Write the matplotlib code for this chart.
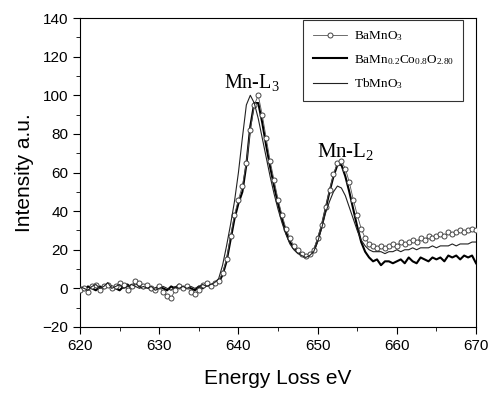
import numpy as np
import matplotlib
matplotlib.use("Agg")
import matplotlib.pyplot as plt
from matplotlib.ticker import MultipleLocator

plt.rcParams['mathtext.fontset'] = 'custom'
plt.rcParams['mathtext.rm'] = 'Liberation Serif'
plt.rcParams['mathtext.it'] = 'Liberation Serif:italic'

energy = np.arange(620, 670.01, 0.5)

bamno3 = [-1, 0, -2, 1, 2, -1, 1, 2, 0, 1, 3, 2, -1, 1, 4, 3, 1, 2, 0, -1,
          1, -2, -4, -5, -1, 1, 0, 1, -2, -3, -1, 2, 3, 1, 3,
          4, 8, 15, 27, 38, 46, 53, 65, 82, 95, 100, 90, 78, 66, 56, 46, 38, 31, 26, 22,
          20, 18, 17, 18, 20, 26, 33, 42, 51, 59, 65, 66, 62, 55, 46, 38, 31, 26, 23, 22,
          21, 22, 21, 22, 23, 22, 24, 23, 24, 25, 24, 26, 25, 27, 26, 27, 28, 27, 29, 28,
          29, 30, 29, 30, 31, 30]

bamncoo = [0, -1, 1, 0, -1, 1, 0, 2, 1, 0, -1, 1, 2, 0, 3, 1, 0, 1, -1, 0,
           1, 0, -1, 1, 0, 2, 0, 1, 0, -1, 1, 0, 2, 1, 2,
           3, 7, 14, 25, 36, 44, 50, 64, 84, 96, 96, 86, 74, 63, 53, 44, 36, 29, 24, 21,
           19, 17, 16, 17, 19, 25, 32, 41, 50, 58, 64, 64, 58, 50, 41, 32, 24, 19, 16, 14,
           15, 12, 14, 14, 13, 14, 15, 13, 16, 14, 13, 16, 15, 14, 16, 15, 16, 14, 17, 16,
           17, 15, 17, 16, 17, 13]

tbmno3 = [1, 0, -1, 1, 2, 0, 1, 3, 0, 1, 2, 0, 1, 2, 1, 0, 1, 0, 1, -1,
          0, 1, 0, -1, 1, 0, 1, 0, 1, 0, 1, 2, 1, 2, 3,
          5, 12, 22, 33, 45, 60, 78, 95, 100, 96, 88, 78, 68, 58, 49, 41, 34, 28, 23, 20,
          18, 17, 16, 17, 19, 24, 31, 39, 45, 50, 53, 52, 48, 42, 36, 30, 25, 22, 20, 19,
          19, 19, 18, 19, 19, 20, 19, 20, 20, 21, 20, 21, 21, 21, 22, 21, 22, 22, 22, 23,
          22, 23, 23, 23, 24, 24]

labels = [r'BaMnO$\mathregular{_3}$',
          r'BaMn$\mathregular{_{0.2}}$Co$\mathregular{_{0.8}}$O$\mathregular{_{2.80}}$',
          r'TbMnO$\mathregular{_3}$']

fig = plt.figure(figsize=(4.91, 3.93), dpi=100)
ax = fig.add_axes([0.163, 0.168, 0.8065, 0.786])

ax.plot(energy, bamno3, color='#555555', lw=0.6, marker='o', markersize=3.6,
        markerfacecolor='white', markeredgecolor='#444444', markeredgewidth=0.7,
        label=labels[0], zorder=3)
ax.plot(energy, bamncoo, color='black', lw=1.5, label=labels[1], zorder=2)
ax.plot(energy, tbmno3, color='#222222', lw=0.8, label=labels[2], zorder=4)

ax.set_xlim(620, 670)
ax.set_ylim(-20, 140)
ax.xaxis.set_major_locator(MultipleLocator(10))
ax.xaxis.set_minor_locator(MultipleLocator(5))
ax.yaxis.set_major_locator(MultipleLocator(20))
ax.yaxis.set_minor_locator(MultipleLocator(10))
ax.tick_params(which='both', direction='out', top=False, right=False,
               labelsize=11)
ax.tick_params(which='major', length=5)
ax.tick_params(which='minor', length=3)
for lab in ax.get_xticklabels() + ax.get_yticklabels():
    lab.set_fontfamily('Liberation Sans')

ax.set_xlabel('Energy Loss eV', fontsize=15, family='Liberation Sans', labelpad=12)
ax.set_ylabel('Intensity a.u.', fontsize=15, family='Liberation Sans', labelpad=6)

ax.text(638.2, 104, r'Mn-L$\mathregular{_3}$', fontsize=14.5, family='Liberation Serif')
ax.text(649.9, 68, r'Mn-L$\mathregular{_2}$', fontsize=15, family='Liberation Serif')

leg = ax.legend(loc='upper right', bbox_to_anchor=(0.967, 0.994),
                prop={'family': 'Liberation Serif', 'size': 9.5},
                frameon=True, fancybox=False, edgecolor='black',
                handlelength=2.6, handletextpad=0.5, labelspacing=0.75,
                borderpad=0.7, borderaxespad=0)
leg.get_frame().set_linewidth(0.8)

fig.savefig('out.png', dpi=100)
